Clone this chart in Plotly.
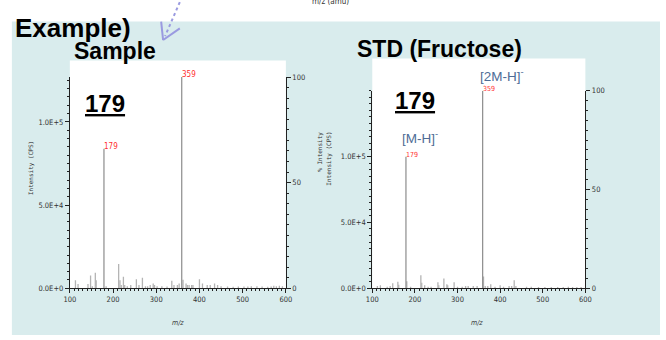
import plotly.graph_objects as go

# ---------------- data (relative intensity, % of base peak) ----------------
sample_mz = [113, 119, 142, 148, 152, 159, 161, 179, 184, 213, 216, 219, 224, 227, 233, 241,
             254, 260, 268, 275, 280, 286, 293, 296, 302, 313, 325, 336, 341, 349, 353, 359,
             362, 369, 372, 376, 382, 385, 400, 407, 418, 425, 435, 442, 450, 465, 478, 490,
             503, 512, 520, 533, 545, 558, 566, 572, 578, 585, 592]
sample_int = [3.8, 2.0, 2.0, 6.1, 1.0, 7.4, 3.8, 66, 1.0, 11.5, 3.8, 1.5, 5.4, 1.5, 1.0, 1.5,
              4.3, 1.5, 5.0, 1.0, 1.0, 1.5, 2.3, 1.5, 1.0, 1.0, 0.8, 3.5, 1.5, 1.5, 2.3, 100,
              4.0, 2.3, 1.5, 1.5, 1.5, 1.5, 4.3, 2.3, 1.5, 1.5, 2.3, 1.5, 1.0, 0.8, 0.7, 0.8,
              0.8, 0.8, 1.0, 1.0, 0.8, 0.7, 0.8, 1.2, 1.0, 1.2, 1.0]

std_mz = [112, 119, 135, 142, 148, 160, 162, 179, 181, 190, 214, 216, 223, 231, 238, 254,
          256, 268, 275, 277, 292, 300, 311, 319, 325, 337, 346, 359, 361, 365, 371, 378,
          388, 400, 408, 421, 427, 433, 437, 462, 473, 490, 505, 520, 535, 548, 560, 570,
          580, 590]
std_int = [1.1, 1.5, 0.8, 1.1, 2.5, 3.3, 1.8, 66.5, 3.6, 0.8, 6.6, 2.8, 1.5, 0.8, 0.8, 3.1,
           1.5, 4.9, 2.0, 1.5, 3.1, 0.8, 0.8, 1.1, 1.1, 1.1, 1.1, 100, 6.0, 1.1, 1.1, 2.0,
           0.8, 1.5, 0.8, 1.1, 1.1, 4.1, 1.1, 0.8, 0.8, 0.6, 0.6, 0.6, 0.6, 0.6, 0.8, 0.6,
           0.6, 0.6]

sample_max_cps = 1.27e5
std_max_cps = 1.5e5
cps_ticks = [0, 5e4, 1e5]
cps_labels = ["0.0E+0", "5.0E+4", "1.0E+5"]
pct_ticks = [0, 50, 100]
mz_ticks = [100, 200, 300, 400, 500, 600]
labelled_peaks = [179, 359]

W, H = 666, 340
def px(x):
    return x / W
def py(y):
    return 1 - y / H

def sticks(mz, inten):
    xs, ys = [], []
    for m, i in zip(mz, inten):
        xs += [m, m, None]
        ys += [0, i, None]
    return xs, ys

TICKFONT = dict(family="Liberation Sans Narrow, Arial Narrow, DejaVu Sans Condensed, Liberation Sans",
                size=7.5, color="#333")
fig = go.Figure()

for (mz, it, xa, ya_pct, ya_cps) in [(sample_mz, sample_int, "x", "y2", "y"),
                                      (std_mz, std_int, "x2", "y4", "y3")]:
    small_m = [m for m, i in zip(mz, it) if m not in labelled_peaks]
    small_i = [i for m, i in zip(mz, it) if m not in labelled_peaks]
    big_m = [m for m in mz if m in labelled_peaks]
    big_i = [i for m, i in zip(mz, it) if m in labelled_peaks]
    xs, ys = sticks(small_m, small_i)
    fig.add_trace(go.Scatter(x=xs, y=ys, mode="lines", line=dict(color="#b4b4b4", width=1.3),
                             xaxis=xa, yaxis=ya_pct, hoverinfo="skip", showlegend=False))
    xs, ys = sticks(big_m, big_i)
    fig.add_trace(go.Scatter(x=xs, y=ys, mode="lines", line=dict(color="#8c8c8c", width=1.2),
                             xaxis=xa, yaxis=ya_pct, hoverinfo="skip", showlegend=False))
    fig.add_trace(go.Scatter(x=[None], y=[None], xaxis=xa, yaxis=ya_cps,
                             hoverinfo="skip", showlegend=False))

def xaxis_def(d0, d1, anchor):
    return dict(domain=[px(d0), px(d1)], range=[100, 600], anchor=anchor,
                tickvals=mz_ticks, ticks="outside", ticklen=4, tickcolor="#222",
                showline=True, linecolor="#222", linewidth=1, showgrid=False, zeroline=False,
                tickfont=TICKFONT, fixedrange=True,
                minor=dict(dtick=10, ticks="outside", ticklen=2, tickcolor="#222"))

def ycps_def(t, b, anchor, rmax):
    return dict(domain=[py(b), py(t)], range=[0, rmax], anchor=anchor,
                tickvals=cps_ticks, ticktext=cps_labels, ticks="outside", ticklen=4,
                tickcolor="#222", showline=True, linecolor="#222", linewidth=1,
                showgrid=False, zeroline=False, tickfont=TICKFONT,
                minor=dict(dtick=5000, ticks="outside", ticklen=2, tickcolor="#222"))

def ypct_def(over, anchor):
    return dict(overlaying=over, side="right", range=[0, 100], anchor=anchor,
                tickvals=pct_ticks, ticks="outside", ticklen=4, tickcolor="#222",
                showline=True, linecolor="#222", linewidth=1, showgrid=False, zeroline=False,
                tickfont=TICKFONT,
                minor=dict(dtick=5, ticks="outside", ticklen=2, tickcolor="#222"))

fig.update_layout(
    width=W, height=H, margin=dict(l=0, r=0, t=0, b=0), autosize=False,
    paper_bgcolor="white", plot_bgcolor="rgba(0,0,0,0)",
    xaxis=xaxis_def(65, 285, "y"),
    yaxis=ycps_def(75, 292, "x", sample_max_cps),
    yaxis2=ypct_def("y", "x"),
    xaxis2=xaxis_def(373, 590, "y3"),
    yaxis3=ycps_def(89, 292, "x2", std_max_cps),
    yaxis4=ypct_def("y3", "x2"),
)

shapes = [
    dict(type="rect", xref="paper", yref="paper", x0=px(6), x1=px(666), y0=py(340), y1=py(18),
         fillcolor="#d9eced", line=dict(width=0), layer="below"),
    dict(type="rect", xref="paper", yref="paper", x0=px(65), x1=px(285), y0=py(292), y1=py(58),
         fillcolor="white", line=dict(width=0), layer="below"),
    dict(type="rect", xref="paper", yref="paper", x0=px(373), x1=px(590), y0=py(292), y1=py(56),
         fillcolor="white", line=dict(width=0), layer="below"),
    # dotted arrow
    dict(type="line", xref="paper", yref="paper", x0=px(177), y0=py(-2), x1=px(162), y1=py(33),
         line=dict(color="#9a9ae0", width=2, dash="dot")),
    dict(type="line", xref="paper", yref="paper", x0=px(160), y0=py(37), x1=px(177), y1=py(25),
         line=dict(color="#9a9ae0", width=2)),
    dict(type="line", xref="paper", yref="paper", x0=px(160), y0=py(37), x1=px(158), y1=py(18),
         line=dict(color="#9a9ae0", width=2)),
]
fig.update_layout(shapes=shapes)

BOLD = "Liberation Sans"
ann = []
def add(text, x, y, size, color="black", family=BOLD, xanchor="left", yanchor="middle",
        angle=0, xref="paper", yref="paper"):
    ann.append(dict(text=text, x=x, y=y, xref=xref, yref=yref, showarrow=False,
                    xanchor=xanchor, yanchor=yanchor, textangle=angle,
                    font=dict(family=family, size=size, color=color), borderpad=0))

add("m/z (amu)", px(330), py(-3), 8, color="#333", family=TICKFONT["family"], xanchor="center")
add("<b>Example)</b>", px(8), py(25), 26)
add("<b>Sample</b>", px(68), py(48), 23)
add("<b>STD (Fructose)</b>", px(356), py(46), 23)
add("<b><u>179</u></b>", px(79), py(102), 24)
add("<b><u>179</u></b>", px(395), py(99), 24)
add("[2M-H]<sup>-</sup>", px(482), py(73), 13.5, color="#4e6c96")
add("[M-H]<sup>-</sup>", px(402), py(137), 13.5, color="#4e6c96")

# peak labels (data coordinates)
for xa, ya, pk, it, size in [("x", "y2", sample_mz, sample_int, 8), ("x2", "y4", std_mz, std_int, 7)]:
    for m, i in zip(pk, it):
        if m in labelled_peaks:
            ann.append(dict(text=str(m), x=m, y=i, xref=xa, yref=ya, showarrow=False,
                            xanchor="left", yanchor="bottom", yshift=-3, xshift=-1,
                            font=dict(family=TICKFONT["family"], size=size, color="#ff3030"),
                            borderpad=0))

AXT = dict(family="DejaVu Sans Mono, Liberation Mono", size=6, color="#333")
for text, x, y, yanchor in [("Intensity (CPS)", 25, 169, "middle"),
                            ("% Intensity", 319, 130, "top"),
                            ("Intensity (CPS)", 328, 130, "top")]:
    ann.append(dict(text=text, x=px(x), y=py(y), xref="paper", yref="paper", showarrow=False,
                    xanchor="center", yanchor=yanchor, textangle=-90, font=AXT, borderpad=0))
for x in [175, 480]:
    ann.append(dict(text="<i>m/z</i>", x=px(x), y=py(328), xref="paper", yref="paper",
                    showarrow=False, xanchor="center", yanchor="middle",
                    font=dict(family=TICKFONT["family"], size=7, color="#333")))

fig.update_layout(annotations=ann)
fig.write_html("out.html")
